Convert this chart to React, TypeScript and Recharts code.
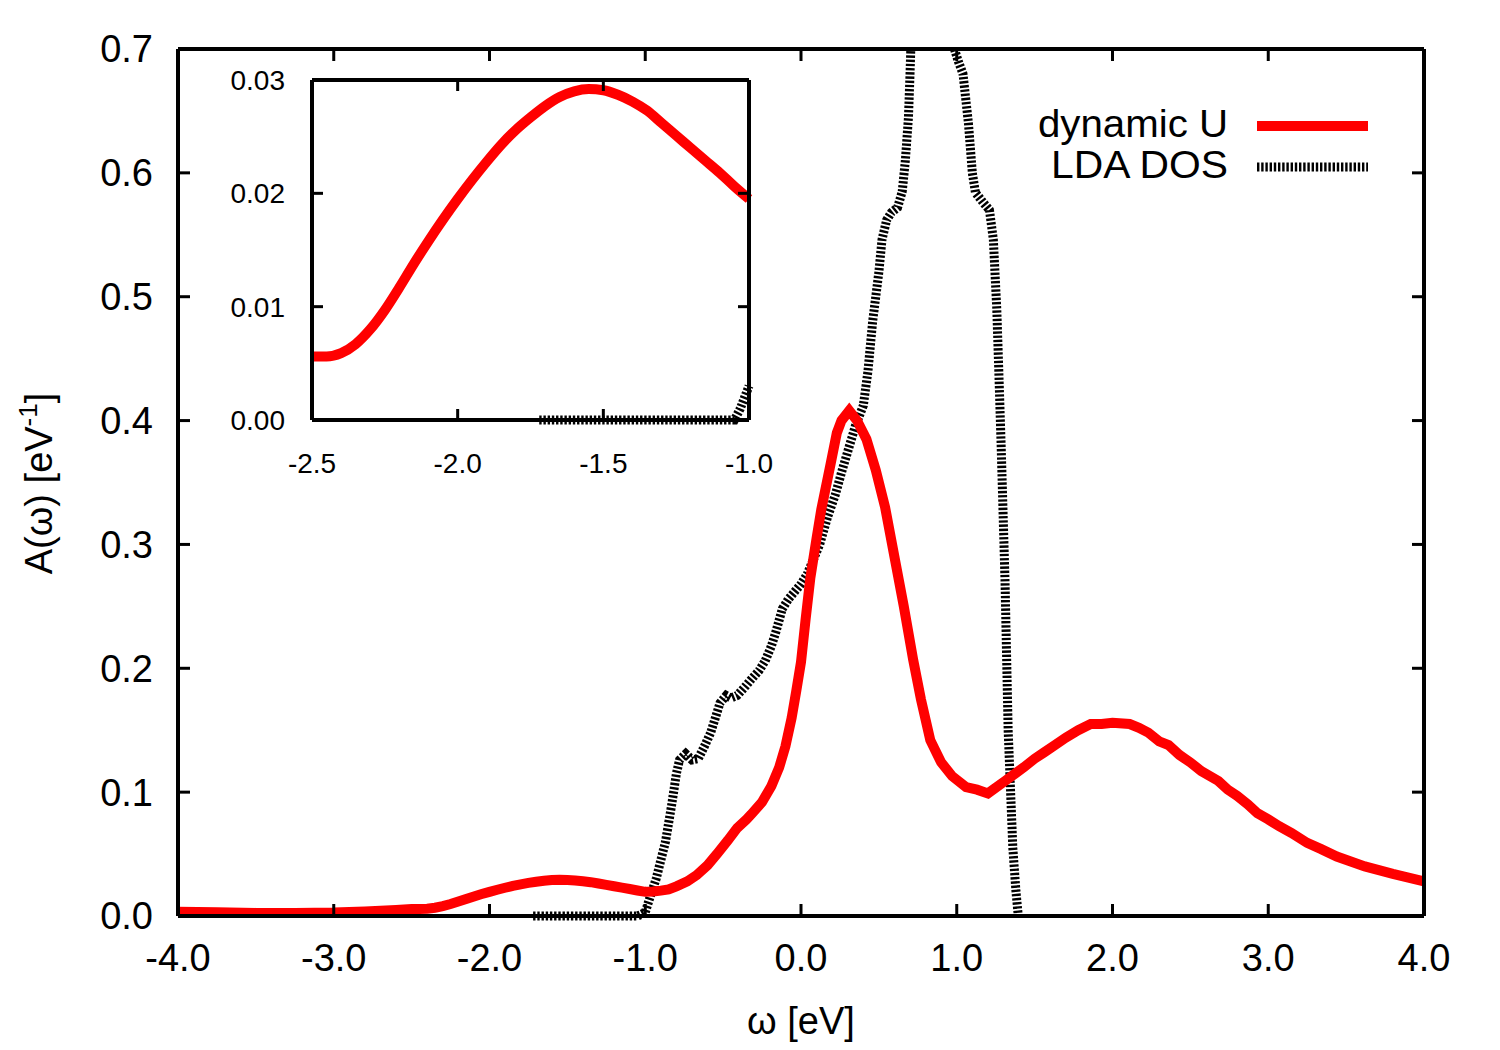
import React from 'react';
import { LineChart, Line, XAxis, YAxis, Legend } from 'recharts';

const FONT = '"Liberation Sans", Arial, Helvetica, sans-serif';

// dynamic U spectral function A(omega)
const dynOmega = [
  -4.0, -3.75, -3.5, -3.25, -3.0, -2.8, -2.6, -2.5, -2.45, -2.4, -2.35, -2.3, -2.25, -2.2, -2.15, -2.1, -2.05,
  -2.0, -1.95, -1.9, -1.85, -1.8, -1.75, -1.7, -1.65, -1.6, -1.55, -1.5, -1.45, -1.4, -1.35, -1.3, -1.25, -1.2,
  -1.15, -1.1, -1.05, -1.0, -0.95, -0.9, -0.85, -0.8, -0.73, -0.67, -0.6, -0.54, -0.47, -0.41, -0.35, -0.32,
  -0.25, -0.19, -0.14, -0.1, -0.06, -0.03, 0.0, 0.03, 0.06, 0.1, 0.13, 0.19, 0.23, 0.26, 0.31, 0.36, 0.42, 0.48,
  0.54, 0.6, 0.66, 0.72, 0.77, 0.83, 0.9, 0.97, 1.06, 1.13, 1.2, 1.31, 1.43, 1.5, 1.56, 1.63, 1.7, 1.78, 1.86,
  1.93, 2.0, 2.11, 2.17, 2.23, 2.3, 2.36, 2.43, 2.5, 2.57, 2.68, 2.74, 2.8, 2.87, 2.93, 3.0, 3.07, 3.15, 3.25,
  3.34, 3.44, 3.53, 3.62, 3.71, 3.8, 3.9, 4.0,
];
const dynA = [
  0.0035, 0.003, 0.0025, 0.0025, 0.0028, 0.0036, 0.0048, 0.0056, 0.0056, 0.0059, 0.0067, 0.008, 0.0097, 0.0117,
  0.0138, 0.0158, 0.0177, 0.0195, 0.0212, 0.0228, 0.0243, 0.0256, 0.0267, 0.0277, 0.0285, 0.029, 0.0292, 0.0291,
  0.0287, 0.0281, 0.0273, 0.0262, 0.0251, 0.024, 0.0229, 0.0218, 0.0206, 0.0195, 0.0198, 0.0205, 0.0215, 0.024,
  0.028, 0.033, 0.041, 0.05, 0.061, 0.071, 0.078, 0.082, 0.092, 0.105, 0.12, 0.137, 0.16, 0.182, 0.205, 0.24,
  0.273, 0.305, 0.328, 0.365, 0.39, 0.4, 0.408, 0.4, 0.385, 0.36, 0.33, 0.29, 0.25, 0.207, 0.175, 0.142, 0.124,
  0.113, 0.104, 0.102, 0.099, 0.109, 0.12, 0.127, 0.132, 0.138, 0.144, 0.15, 0.155, 0.155, 0.156, 0.155, 0.152,
  0.148, 0.141, 0.138, 0.13, 0.124, 0.117, 0.109, 0.102, 0.097, 0.09, 0.083, 0.078, 0.0725, 0.067, 0.059, 0.054,
  0.048, 0.044, 0.04, 0.037, 0.034, 0.031, 0.028,
];

// LDA density of states (runs off the top of the frame between ~0.7 and ~1.0 eV)
const ldaOmega = [
  -1.72, -1.6, -1.4, -1.2, -1.05, -1.03, -1.0, -0.97, -0.93, -0.9, -0.87, -0.83, -0.8, -0.78, -0.74, -0.7,
  -0.66, -0.62, -0.58, -0.55, -0.52, -0.48, -0.45, -0.41, -0.36, -0.32, -0.27, -0.23, -0.19, -0.16, -0.12,
  -0.08, -0.04, 0.0, 0.04, 0.08, 0.12, 0.17, 0.22, 0.26, 0.3, 0.35, 0.4, 0.43, 0.46, 0.5, 0.52, 0.55, 0.58,
  0.62, 0.65, 0.67, 0.69, 0.7, 0.705, 0.85, 0.985, 1.01, 1.04, 1.075, 1.1, 1.12, 1.17, 1.21, 1.235, 1.257,
  1.27, 1.285, 1.31, 1.33, 1.36, 1.38, 1.395,
];
const ldaA: (number | null)[] = [
  0, 0, 0, 0, 0, 0.001, 0.003, 0.015, 0.03, 0.045, 0.06, 0.09, 0.115, 0.126, 0.131, 0.126, 0.127, 0.137,
  0.148, 0.16, 0.172, 0.178, 0.176, 0.178, 0.185, 0.191, 0.198, 0.206, 0.218, 0.23, 0.248, 0.256, 0.262,
  0.268, 0.276, 0.288, 0.3, 0.322, 0.34, 0.358, 0.375, 0.396, 0.412, 0.44, 0.48, 0.52, 0.546, 0.562, 0.568,
  0.572, 0.585, 0.61, 0.645, 0.68, 0.7, null, 0.7, 0.69, 0.68, 0.64, 0.6, 0.584, 0.576, 0.57, 0.546, 0.49,
  0.44, 0.38, 0.27, 0.15, 0.055, 0.02, 0.0,
];

const seriesNames = ['dynamic U', 'LDA DOS'];
const mainXTicks = [-4, -3, -2, -1, 0, 1, 2, 3, 4];
const mainYTicks = [0, 0.1, 0.2, 0.3, 0.4, 0.5, 0.6, 0.7];
const insetXTicks = [-2.5, -2.0, -1.5, -1.0];
const insetYTicks = [0, 0.01, 0.02, 0.03];
const xLabelText = 'ω [eV]';
const yLabelText = 'A(ω) [eV';
const yLabelSup = '-1';

const mainXDomain: [number, number] = [-4, 4];
const mainYDomain: [number, number] = [0, 0.7];
const insetXDomain: [number, number] = [-2.5, -1.0];
const insetYDomain: [number, number] = [0, 0.03];

const dynData = dynOmega.map((w, i) => ({ w, a: dynA[i] }));
const ldaData = ldaOmega.map((w, i) => ({ w, a: ldaA[i] }));
const insetDyn = dynData.filter((d) => d.w >= insetXDomain[0] && d.w <= insetXDomain[1]);
const insetLda = ldaData.filter((d) => d.w >= insetXDomain[0] && d.w <= insetXDomain[1]);

const RED = '#ff0000';
const BLACK = '#000000';
const HATCH = '2.4 1.8';

const axisLine = { stroke: BLACK, strokeWidth: 4 };
const tickLine = { stroke: BLACK, strokeWidth: 3 };
const blank = () => '';

const renderLegend = () => (
  <svg width={400} height={110} style={{ display: 'block', fontFamily: FONT }}>
    <text x={228} y={47} textAnchor="end" fontSize={38} fill={BLACK} textLength={190} lengthAdjust="spacingAndGlyphs">
      {seriesNames[0]}
    </text>
    <line x1={257} x2={368} y1={36} y2={36} stroke={RED} strokeWidth={10} />
    <text x={228} y={88} textAnchor="end" fontSize={38} fill={BLACK} textLength={177} lengthAdjust="spacingAndGlyphs">
      {seriesNames[1]}
    </text>
    <line x1={257} x2={368} y1={77} y2={77} stroke={BLACK} strokeWidth={9} strokeDasharray={HATCH} />
  </svg>
);

const XLabel = (props: any) => {
  const vb = props.viewBox || { x: 170, y: 908, width: 1246, height: 100 };
  return (
    <text x={vb.x + vb.width / 2} y={vb.y + 118} textAnchor="middle" fontSize={38} fill={BLACK}>
      {xLabelText}
    </text>
  );
};

const YLabel = (props: any) => {
  const vb = props.viewBox || { x: 0, y: 41, width: 170, height: 867 };
  const cx = 44;
  const cy = vb.y + vb.height / 2 + 1;
  return (
    <text x={cx} y={cy} transform={`rotate(-90 ${cx} ${cy})`} textAnchor="middle" fontSize={38} fill={BLACK}>
      {yLabelText}
      <tspan dy={-15} fontSize={26}>{yLabelSup}</tspan>
      <tspan dy={15}>]</tspan>
    </text>
  );
};

export default function App() {
  return (
    <div style={{ position: 'relative', width: 1484, height: 1034, fontFamily: FONT, background: '#fff' }}>
      <LineChart width={1484} height={1034} margin={{ top: 40, right: 67, bottom: 26, left: 0 }}>
        <XAxis
          xAxisId="bottom"
          dataKey="w"
          type="number"
          domain={mainXDomain}
          ticks={mainXTicks}
          tickFormatter={(v: number) => v.toFixed(1)}
          height={100}
          tickSize={-12}
          tickMargin={40}
          axisLine={axisLine}
          tickLine={tickLine}
          tick={{ fontSize: 38, fill: BLACK }}
          label={<XLabel />}
        />
        <XAxis
          xAxisId="top"
          orientation="top"
          dataKey="w"
          type="number"
          domain={mainXDomain}
          allowDataOverflow
          ticks={mainXTicks}
          tickFormatter={blank}
          height={1}
          tickSize={-12}
          axisLine={axisLine}
          tickLine={tickLine}
        />
        <YAxis
          yAxisId="left"
          type="number"
          domain={mainYDomain}
          ticks={mainYTicks}
          tickFormatter={(v: number) => v.toFixed(1)}
          width={170}
          tickSize={-12}
          tickMargin={37}
          axisLine={axisLine}
          tickLine={tickLine}
          tick={{ fontSize: 38, fill: BLACK }}
          label={<YLabel />}
        />
        <YAxis
          yAxisId="right"
          orientation="right"
          type="number"
          domain={mainYDomain}
          allowDataOverflow
          ticks={mainYTicks}
          tickFormatter={blank}
          width={1}
          tickSize={-12}
          axisLine={axisLine}
          tickLine={tickLine}
        />
        <Line
          xAxisId="bottom"
          yAxisId="left"
          data={ldaData}
          dataKey="a"
          name={seriesNames[1]}
          type="linear"
          stroke={BLACK}
          strokeWidth={9}
          strokeDasharray={HATCH}
          dot={false}
          activeDot={false}
          isAnimationActive={false}
        />
        <Line
          xAxisId="bottom"
          yAxisId="left"
          data={dynData}
          dataKey="a"
          name={seriesNames[0]}
          type="linear"
          stroke={RED}
          strokeWidth={10}
          dot={false}
          activeDot={false}
          isAnimationActive={false}
        />
        <Line
          xAxisId="top"
          yAxisId="right"
          data={dynData}
          dataKey="a"
          legendType="none"
          stroke="none"
          strokeWidth={0}
          dot={false}
          activeDot={false}
          isAnimationActive={false}
        />
        <Legend
          layout="horizontal"
          verticalAlign="middle"
          align="center"
          content={renderLegend}
          wrapperStyle={{ left: 992, top: 82, width: 400, height: 110 }}
        />
      </LineChart>

      <div style={{ position: 'absolute', left: 200, top: 50 }}>
        <LineChart width={600} height={440} margin={{ top: 21, right: 58, bottom: 18, left: 0 }}>
          <XAxis
            xAxisId="bottom"
            dataKey="w"
            type="number"
            domain={insetXDomain}
            ticks={insetXTicks}
            tickFormatter={(v: number) => v.toFixed(1)}
            height={60}
            tickSize={-11}
            tickMargin={44}
            axisLine={axisLine}
            tickLine={tickLine}
            tick={{ fontSize: 28, fill: BLACK }}
          />
          <XAxis
            xAxisId="top"
            orientation="top"
            dataKey="w"
            type="number"
            domain={insetXDomain}
            allowDataOverflow
            ticks={insetXTicks}
            tickFormatter={blank}
            height={1}
            tickSize={-11}
            axisLine={axisLine}
            tickLine={tickLine}
          />
          <YAxis
            yAxisId="left"
            type="number"
            domain={insetYDomain}
            ticks={insetYTicks}
            tickFormatter={(v: number) => v.toFixed(2)}
            width={104}
            tickSize={-11}
            tickMargin={38}
            axisLine={axisLine}
            tickLine={tickLine}
            tick={{ fontSize: 28, fill: BLACK }}
          />
          <YAxis
            yAxisId="right"
            orientation="right"
            type="number"
            domain={insetYDomain}
            allowDataOverflow
            ticks={insetYTicks}
            tickFormatter={blank}
            width={1}
            tickSize={-11}
            axisLine={axisLine}
            tickLine={tickLine}
          />
          <Line
            xAxisId="bottom"
            yAxisId="left"
            data={insetLda}
            dataKey="a"
            name={seriesNames[1]}
            type="linear"
            stroke={BLACK}
            strokeWidth={9}
            strokeDasharray={HATCH}
            dot={false}
            activeDot={false}
            isAnimationActive={false}
          />
          <Line
            xAxisId="bottom"
            yAxisId="left"
            data={insetDyn}
            dataKey="a"
            name={seriesNames[0]}
            type="monotone"
            stroke={RED}
            strokeWidth={10}
            dot={false}
            activeDot={false}
            isAnimationActive={false}
          />
          <Line
            xAxisId="top"
            yAxisId="right"
            data={insetDyn}
            dataKey="a"
            legendType="none"
            stroke="none"
            strokeWidth={0}
            dot={false}
            activeDot={false}
            isAnimationActive={false}
          />
        </LineChart>
      </div>
    </div>
  );
}
